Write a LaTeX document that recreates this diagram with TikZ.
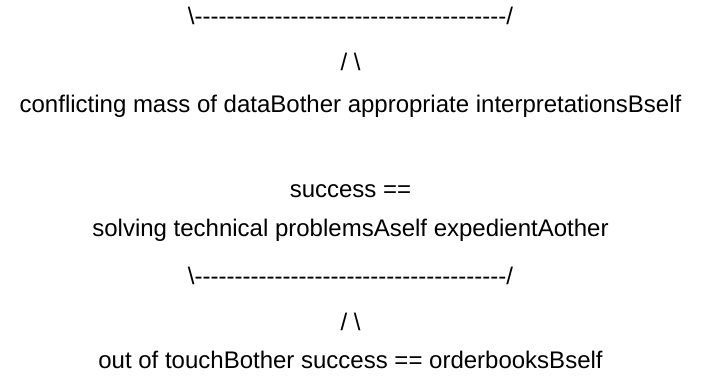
\documentclass[tikz,border=0pt]{standalone}
\usepackage{fontspec}
\setmainfont{Liberation Sans}[Ligatures=TeXOff]
\newcommand{\dashbar}{\textbackslash---------------------------------------/}
\begin{document}
\begin{tikzpicture}[x=1bp,y=-1bp]
        % Styles
        \tikzstyle{line text}=[anchor=base,inner sep=0pt,font=\fontsize{24bp}{28bp}\selectfont]
        %The graphic
        \useasboundingbox (0,0) rectangle (701,381);
        %upper block
        \node[style=line text] (bar one) at (350.5,24) {\dashbar};
        \node[style=line text] (fork one) at (350.5,70) {/ \textbackslash};
        \node[style=line text] (conflict) at (350.5,112) {conflicting mass of dataBother appropriate interpretationsBself};
        %lower block
        \node[style=line text] (success) at (350.5,197) {success ==};
        \node[style=line text] (solving) at (350.5,236) {solving technical problemsAself expedientAother};
        \node[style=line text] (bar two) at (350.5,284) {\dashbar};
        \node[style=line text] (fork two) at (350.5,330) {/ \textbackslash};
        \node[style=line text] (touch) at (350.5,368) {out of touchBother success == orderbooksBself};
\end{tikzpicture}
\end{document}
